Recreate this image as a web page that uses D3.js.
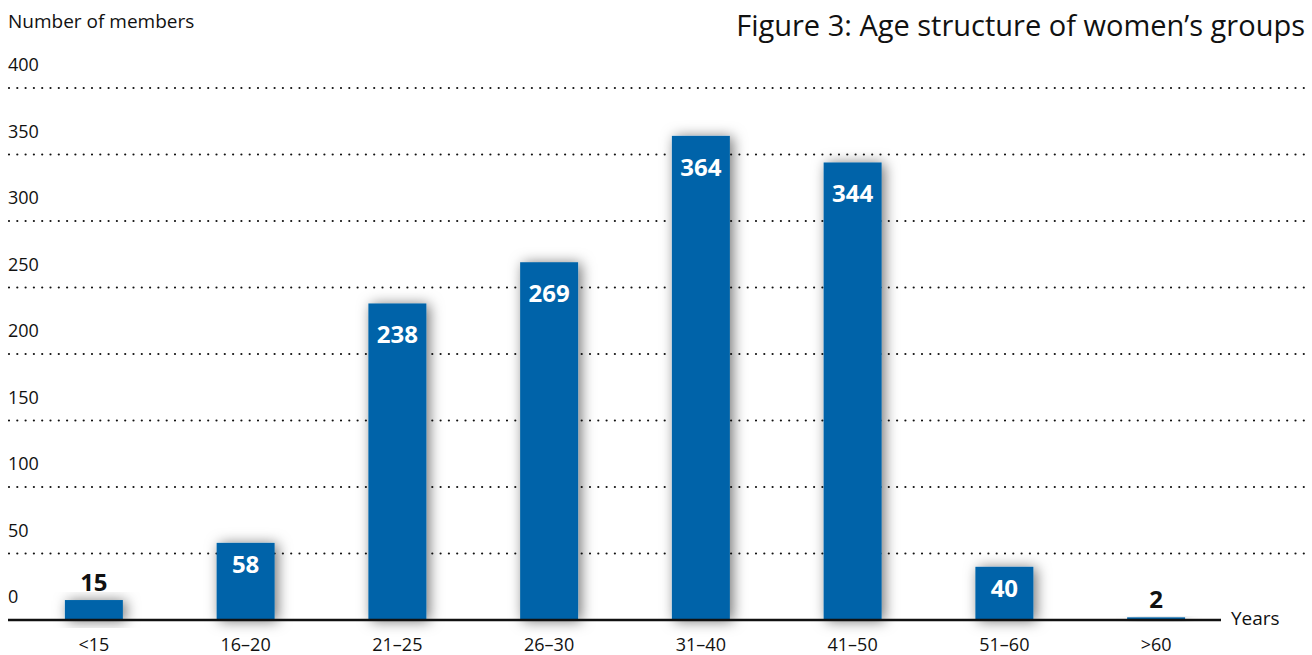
<!DOCTYPE html>
<html>
  <head>
    <meta charset="utf-8">
    <title>Figure 3: Age structure of women's groups</title>
    <script type="text/javascript" src="https://d3js.org/d3.v7.min.js"></script>
    <style type="text/css">
      body { margin: 0; background: #fff; }
      text { font-family: "Open Sans", "Noto Sans", sans-serif; }
    </style>
  </head>
  <body>
    <script type="text/javascript">

      // Data
      var categories = ["<15", "16–20", "21–25", "26–30", "31–40", "41–50", "51–60", ">60"];
      var members = [15, 58, 238, 269, 364, 344, 40, 2];
      var yTicks = [0, 50, 100, 150, 200, 250, 300, 350, 400];

      // Width and height
      var w = 1312;
      var h = 655;

      var svg = d3.select("body")
            .append("svg")
            .attr("width", w)
            .attr("height", h);

      // soft shadow behind the bars
      var defs = svg.append("defs");
      var f = defs.append("filter")
            .attr("id", "shadow")
            .attr("x", "-60%").attr("y", "-40%")
            .attr("width", "220%").attr("height", "180%");
      f.append("feDropShadow")
        .attr("dx", 3).attr("dy", 1)
        .attr("stdDeviation", 7)
        .attr("flood-color", "#000")
        .attr("flood-opacity", 0.55);

      var x = d3.scaleBand()
            .domain(categories)
            .range([18, 1232])
            .paddingInner(0.618)
            .paddingOuter(0.309);

      var y = d3.scaleLinear()
            .domain([0, 400])
            .range([620, 88]);

      // dotted gridlines
      svg.selectAll("line.grid")
         .data(yTicks.filter(function(d) { return d > 0; }))
         .enter()
         .append("line")
         .attr("class", "grid")
         .attr("x1", 9).attr("x2", w)
         .attr("y1", function(d) { return y(d); })
         .attr("y2", function(d) { return y(d); })
         .attr("stroke", "#111")
         .attr("stroke-width", 2.2)
         .attr("stroke-linecap", "round")
         .attr("stroke-dasharray", "0 8.3");

      // tick labels sit above each line
      svg.selectAll("text.ytick")
         .data(yTicks)
         .enter()
         .append("text")
         .attr("class", "ytick")
         .attr("x", 8)
         .attr("y", function(d) { return y(d) - 17; })
         .attr("font-size", 18)
         .attr("fill", "#111")
         .text(function(d) { return d; });

      // bars
      svg.selectAll("rect.bar")
         .data(members)
         .enter()
         .append("rect")
         .attr("class", "bar")
         .attr("x", function(d, i) { return x(categories[i]); })
         .attr("y", function(d) { return y(d); })
         .attr("width", x.bandwidth())
         .attr("height", function(d) { return y(0) - y(d); })
         .attr("fill", "#0064a9")
         .attr("filter", "url(#shadow)");

      // value labels: inside the bar if it is tall enough, above otherwise
      svg.selectAll("text.val")
         .data(members)
         .enter()
         .append("text")
         .attr("class", "val")
         .attr("x", function(d, i) { return x(categories[i]) + x.bandwidth() / 2; })
         .attr("y", function(d) {
           return d > 30 ? y(d) + (d > 100 ? 40 : 30) : y(d) - 9;
         })
         .attr("text-anchor", "middle")
         .attr("font-size", 24)
         .attr("font-weight", "bold")
         .attr("fill", function(d) { return d > 30 ? "#fff" : "#111"; })
         .text(function(d) { return d; });

      // x axis line
      svg.append("line")
         .attr("x1", 8).attr("x2", 1221)
         .attr("y1", y(0)).attr("y2", y(0))
         .attr("stroke", "#111")
         .attr("stroke-width", 2.5);

      svg.selectAll("text.xtick")
         .data(categories)
         .enter()
         .append("text")
         .attr("class", "xtick")
         .attr("x", function(d) { return x(d) + x.bandwidth() / 2; })
         .attr("y", 651)
         .attr("text-anchor", "middle")
         .attr("font-size", 18)
         .attr("fill", "#111")
         .text(function(d) { return d; });

      svg.append("text")
         .attr("x", 1231).attr("y", 625)
         .attr("font-size", 19)
         .attr("fill", "#111")
         .text("Years");

      svg.append("text")
         .attr("x", 8).attr("y", 28)
         .attr("font-size", 19)
         .attr("fill", "#111")
         .text("Number of members");

      svg.append("text")
         .attr("x", 1305).attr("y", 36)
         .attr("text-anchor", "end")
         .attr("font-size", 29)
         .attr("fill", "#111")
         .text("Figure 3: Age structure of women’s groups");
    </script>
  </body>
</html>
